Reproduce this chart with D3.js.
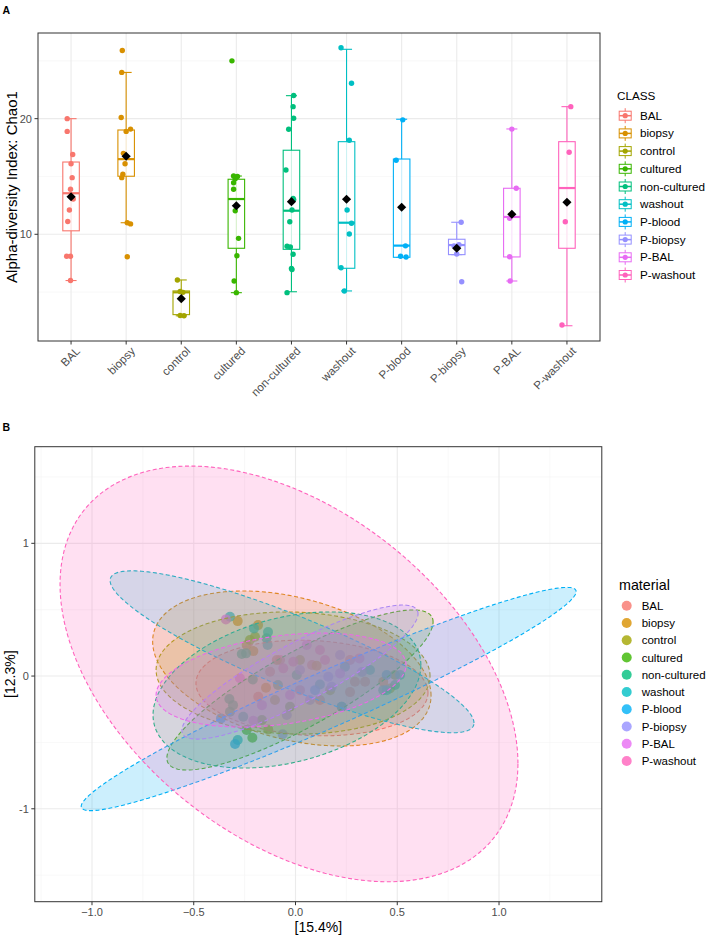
<!DOCTYPE html>
<html><head><meta charset="utf-8">
<script src="https://cdn.jsdelivr.net/npm/d3@7"></script>
<style>body{margin:0;background:#fff;} text{font-family:"Liberation Sans", Arial, sans-serif;}</style>
</head><body><svg id="c" width="708" height="937"></svg>
<script>
// ---------- DATA ----------
const classes = ["BAL","biopsy","control","cultured","non-cultured","washout","P-blood","P-biopsy","P-BAL","P-washout"];
const colors  = ["#F8766D","#D89000","#A3A500","#39B600","#00BF7D","#00BFC4","#00B0F6","#9590FF","#E76BF3","#FF62BC"];

// Panel A: box statistics (Chao1)
const boxQ1    = [10.3, 15.02, 3.05, 8.79, 8.7, 7.06, 8.01, 8.24, 8.04, 8.79];
const boxMed   = [13.55, 16.5, 4.98, 13.05, 12.04, 11.0, 9.02, 9.07, 11.5, 14.0];
const boxQ3    = [16.25, 19.02, 5.1, 14.76, 17.27, 18.01, 16.51, 9.57, 13.98, 18.01];
const whiskLo  = [6.0, 11.0, 2.95, 4.95, 5.03, 5.1, 8.01, 8.24, 5.96, 2.09];
const whiskHi  = [20.0, 24.0, 6.05, 15.04, 21.99, 26.0, 19.95, 11.04, 19.11, 21.04];
const classMean= [13.25, 16.75, 4.43, 12.47, 12.82, 13.03, 12.34, 8.79, 11.73, 12.77];
// Panel A: individual Chao1 values and their horizontal jitter (category units)
const chaoValues = [
  [20.0,18.9,16.9,16.1,14.9,13.9,13.05,12.1,11.1,8.1,8.1,6.0],
  [25.9,24.0,20.1,18.9,19.1,17.0,16.1,15.2,14.9,11.0,10.9,8.06],
  [6.05,5.05,4.98,2.98,2.95],
  [25.0,15.05,15.0,14.8,14.46,13.9,12.45,12.04,9.65,8.15,5.96,4.95],
  [22.0,21.04,20.03,19.08,15.56,13.1,13.0,12.1,11.09,8.96,8.9,8.27,7.04,6.95,4.95],
  [26.14,23.06,18.13,12.1,10.95,10.03,7.11,5.1],
  [19.9,16.4,9.0,8.1,8.03],
  [11.04,9.1,9.0,8.3,5.9],
  [19.1,13.98,11.38,8.06,5.96],
  [21.04,17.09,11.09,2.15]
];
const chaoJitter = [
  [-0.07,-0.07,0.03,0,0.02,-0.01,0.04,-0.03,-0.06,-0.08,-0.01,-0.01],
  [-0.07,-0.08,-0.09,0,0.08,-0.05,-0.02,-0.06,-0.08,0.02,0.08,0.02],
  [-0.07,-0.02,0.03,-0.02,0.05],
  [-0.08,-0.05,0.02,-0.02,-0.05,-0.05,0,-0.02,0.04,0.01,-0.04,0],
  [0.04,0.03,0.04,-0.05,-0.1,0.03,0.04,0.01,-0.03,-0.08,-0.02,0.03,0,0.01,-0.08],
  [-0.1,0.09,0.05,0.01,0.09,0.05,-0.1,-0.04],
  [0.02,-0.1,0.07,-0.02,0.08],
  [0.08,0.04,-0.05,0,0.09],
  [0,0.08,-0.04,-0.04,-0.03],
  [0.07,0.04,-0.03,-0.09]
];
const chaoTicks = [10, 20];

// Panel B: ordination coordinates per material
const pcoX = [
  [0.292,0.342,-0.125,-0.183,0.022,0.120,-0.076,0.268,0.081,0.268],
  [-0.284,-0.240,-0.207,-0.145,0.104,0.431,-0.092,-0.184],
  [-0.199,-0.134,0.022,0.464,0.170,-0.224,-0.101],
  [-0.240,-0.212,-0.027,0.489,-0.165],
  [-0.264,-0.243,-0.210,-0.325,-0.322,-0.257,0.120,0.431,0.243,-0.142,0.227,0.006,-0.086,0.489,-0.307],
  [-0.322,-0.204,-0.137,-0.284,0.366,0.448,-0.135,0.514],
  [-0.297,-0.366,0.448,0.227,0.096],
  [0.219,0.161,0.178,-0.043,-0.063,0.022,0.327,0.071],
  [-0.342,-0.273,-0.207,0.219,0.055,-0.027,-0.165],
  [0.314,-0.011,-0.060,0.120,0.145]
];
const pcoY = [
  [-0.043,-0.043,0.032,-0.156,-0.106,-0.181,0.121,-0.121,0.083,0.121],
  [0.414,0.234,0.188,-0.088,0.078,-0.043,0.121,0.384],
  [0.296,-0.402,0.121,-0.093,-0.106,0.271,-0.181],
  [-0.407,-0.465,-0.231,0.008,-0.332],
  [0.166,0.171,-0.025,-0.173,-0.269,-0.307,-0.063,-0.106,0.070,0.284,-0.231,0.008,-0.068,-0.068,-0.219],
  [0.447,0.359,0.234,-0.482,0.045,-0.106,0.332,0.008],
  [-0.512,-0.319,0.008,-0.231,-0.106],
  [0.158,-0.005,-0.081,-0.294,-0.439,0.045,0.030,-0.181],
  [0.427,-0.017,-0.337,0.020,0.234,-0.143,-0.219],
  [0.133,0.108,0.058,0.196,0.121]
];
// Panel B: confidence ellipses (centre, half extents, correlation)
const ellCx  = [0.081,-0.018,-0.012,0.022,-0.042,-0.017,0.163,0.022,-0.071,-0.032];
const ellCy  = [-0.09,0.057,0.023,-0.105,-0.105,0.183,-0.173,0.03,-0.03,0.016];
const ellRx  = [0.57,0.684,0.673,0.654,0.658,0.894,1.216,0.58,0.614,1.125];
const ellRy  = [0.36,0.584,0.46,0.603,0.588,0.61,0.841,0.505,0.354,1.566];
const ellRho = [-0.1,-0.35,-0.05,0.85,0.32,-0.88,0.962,0.87,0.32,-0.431];
const pcoXTicks = [-1.0,-0.5,0.0,0.5,1.0];
const pcoYTicks = [-1, 0, 1];

// ---------- DRAW ----------
const svg = d3.select("#c");
const tickCol = "#4D4D4D", gridMaj = "#EBEBEB", gridMin = "#F4F4F4", frameCol = "#333333";

// ===== Panel A =====
const A = {x0:38, x1:600, y0:33, y1:341};
const xA = d3.scalePoint().domain(classes).range([A.x0, A.x1]).padding(0.6);
const yA = d3.scaleLinear().domain([0.77, 27.41]).range([A.y1, A.y0]);
const stepA = xA.step();
const gA = svg.append("g");

[5,15,25].forEach(v => gA.append("line").attr("x1",A.x0).attr("x2",A.x1).attr("y1",yA(v)).attr("y2",yA(v))
  .attr("stroke",gridMin).attr("stroke-width",0.6));
chaoTicks.forEach(v => gA.append("line").attr("x1",A.x0).attr("x2",A.x1).attr("y1",yA(v)).attr("y2",yA(v))
  .attr("stroke",gridMaj).attr("stroke-width",1.1));
classes.forEach(c => gA.append("line").attr("x1",xA(c)).attr("x2",xA(c)).attr("y1",A.y0).attr("y2",A.y1)
  .attr("stroke",gridMaj).attr("stroke-width",1.1));

classes.forEach((c,i) => {
  const cx = xA(c), col = colors[i];
  const bw = 0.3*stepA, cw = 0.2*stepA;
  gA.append("line").attr("x1",cx).attr("x2",cx).attr("y1",yA(whiskLo[i])).attr("y2",yA(whiskHi[i]))
    .attr("stroke",col).attr("stroke-width",1.1);
  [whiskLo[i], whiskHi[i]].forEach(v => gA.append("line").attr("x1",cx-cw/2).attr("x2",cx+cw/2)
    .attr("y1",yA(v)).attr("y2",yA(v)).attr("stroke",col).attr("stroke-width",1.1));
  gA.append("rect").attr("x",cx-bw/2).attr("width",bw).attr("y",yA(boxQ3[i])).attr("height",yA(boxQ1[i])-yA(boxQ3[i]))
    .attr("fill","#fff").attr("fill-opacity",0.8).attr("stroke",col).attr("stroke-width",1.1);
  gA.append("line").attr("x1",cx-bw/2).attr("x2",cx+bw/2).attr("y1",yA(boxMed[i])).attr("y2",yA(boxMed[i]))
    .attr("stroke",col).attr("stroke-width",2.2);
  chaoValues[i].forEach((v,j) => gA.append("circle").attr("cx",cx+chaoJitter[i][j]*stepA).attr("cy",yA(v))
    .attr("r",2.7).attr("fill",col));
  gA.append("path").attr("d",d3.symbol(d3.symbolSquare, 42)()).attr("fill","#000")
    .attr("transform",`translate(${cx},${yA(classMean[i])}) rotate(45)`);
});

gA.append("rect").attr("x",A.x0).attr("y",A.y0).attr("width",A.x1-A.x0).attr("height",A.y1-A.y0)
  .attr("fill","none").attr("stroke",frameCol).attr("stroke-width",1);

chaoTicks.forEach(v => {
  gA.append("line").attr("x1",A.x0-3.5).attr("x2",A.x0).attr("y1",yA(v)).attr("y2",yA(v)).attr("stroke",frameCol);
  gA.append("text").attr("x",A.x0-6).attr("y",yA(v)).attr("dy","0.35em").attr("text-anchor","end")
    .attr("font-size",11).attr("fill",tickCol).text(v);
});
classes.forEach(c => {
  gA.append("line").attr("x1",xA(c)).attr("x2",xA(c)).attr("y1",A.y1).attr("y2",A.y1+3.5).attr("stroke",frameCol);
  gA.append("text").attr("transform",`translate(${xA(c)+4},${A.y1+5}) rotate(-45)`)
    .attr("text-anchor","end").attr("dy","0.71em").attr("font-size",11.5).attr("fill",tickCol).text(c);
});
gA.append("text").attr("transform",`translate(17,${(A.y0+A.y1)/2}) rotate(-90)`).attr("text-anchor","middle")
  .attr("font-size",15).attr("fill","#000").text("Alpha-diversity Index: Chao1");
svg.append("text").attr("x",2.5).attr("y",14).attr("font-size",10.5).attr("font-weight","bold").text("A");

const lgA = svg.append("g");
lgA.append("text").attr("x",617).attr("y",100).attr("font-size",11.7).text("CLASS");
classes.forEach((c,i) => {
  const cy = 115.7 + i*17.7, kx = 625.2, col = colors[i];
  lgA.append("line").attr("x1",kx).attr("x2",kx).attr("y1",cy-7.5).attr("y2",cy+7.5).attr("stroke",col).attr("stroke-width",1);
  lgA.append("rect").attr("x",kx-6).attr("y",cy-4.5).attr("width",12).attr("height",9)
    .attr("fill","#fff").attr("stroke",col).attr("stroke-width",1);
  lgA.append("line").attr("x1",kx-6).attr("x2",kx+6).attr("y1",cy).attr("y2",cy).attr("stroke",col).attr("stroke-width",1.5);
  lgA.append("circle").attr("cx",kx).attr("cy",cy).attr("r",2.6).attr("fill",col);
  lgA.append("text").attr("x",640).attr("y",cy).attr("dy","0.35em").attr("font-size",11.7).text(c);
});

// ===== Panel B =====
const B = {x0:34.8, x1:601.8, y0:446.7, y1:901.7};
const xB = d3.scaleLinear().domain([-1.281, 1.505]).range([B.x0, B.x1]);
const yB = d3.scaleLinear().domain([-1.70, 1.728]).range([B.y1, B.y0]);
const gB = svg.append("g");
const clipB = svg.append("clipPath").attr("id","clipB");
clipB.append("rect").attr("x",B.x0).attr("y",B.y0).attr("width",B.x1-B.x0).attr("height",B.y1-B.y0);

[-1.25,-0.75,-0.25,0.25,0.75,1.25].forEach(v => gB.append("line").attr("x1",xB(v)).attr("x2",xB(v))
  .attr("y1",B.y0).attr("y2",B.y1).attr("stroke",gridMin).attr("stroke-width",0.6));
[-1.5,-0.5,0.5,1.5].forEach(v => gB.append("line").attr("y1",yB(v)).attr("y2",yB(v))
  .attr("x1",B.x0).attr("x2",B.x1).attr("stroke",gridMin).attr("stroke-width",0.6));
pcoXTicks.forEach(v => gB.append("line").attr("x1",xB(v)).attr("x2",xB(v))
  .attr("y1",B.y0).attr("y2",B.y1).attr("stroke",gridMaj).attr("stroke-width",1.1));
pcoYTicks.forEach(v => gB.append("line").attr("y1",yB(v)).attr("y2",yB(v))
  .attr("x1",B.x0).attr("x2",B.x1).attr("stroke",gridMaj).attr("stroke-width",1.1));

const plotB = gB.append("g").attr("clip-path","url(#clipB)");
classes.forEach((c,i) => {
  pcoX[i].forEach((x,j) => plotB.append("circle").attr("cx",xB(x)).attr("cy",yB(pcoY[i][j]))
    .attr("r",5).attr("fill",colors[i]).attr("fill-opacity",0.75));
});
const line = d3.line().x(d=>xB(d[0])).y(d=>yB(d[1])).curve(d3.curveLinearClosed);
classes.forEach((c,i) => {
  const s = Math.sqrt(1-ellRho[i]*ellRho[i]);
  const pts = d3.range(0, 200).map(k => {
    const t = k/200*2*Math.PI;
    return [ellCx[i] + ellRx[i]*Math.cos(t), ellCy[i] + ellRy[i]*(ellRho[i]*Math.cos(t) + s*Math.sin(t))];
  });
  plotB.append("path").attr("d",line(pts)).attr("fill",colors[i]).attr("fill-opacity",0.2)
    .attr("stroke",colors[i]).attr("stroke-width",1.1).attr("stroke-dasharray","4,2.5");
});
gB.append("rect").attr("x",B.x0).attr("y",B.y0).attr("width",B.x1-B.x0).attr("height",B.y1-B.y0)
  .attr("fill","none").attr("stroke",frameCol).attr("stroke-width",1);

pcoYTicks.forEach(v => {
  gB.append("line").attr("x1",B.x0-3.5).attr("x2",B.x0).attr("y1",yB(v)).attr("y2",yB(v)).attr("stroke",frameCol);
  gB.append("text").attr("x",B.x0-6).attr("y",yB(v)).attr("dy","0.35em").attr("text-anchor","end")
    .attr("font-size",11).attr("fill",tickCol).text(v);
});
pcoXTicks.forEach(v => {
  gB.append("line").attr("x1",xB(v)).attr("x2",xB(v)).attr("y1",B.y1).attr("y2",B.y1+3.5).attr("stroke",frameCol);
  gB.append("text").attr("x",xB(v)).attr("y",B.y1+6).attr("dy","0.71em").attr("text-anchor","middle")
    .attr("font-size",11).attr("fill",tickCol).text(d3.format(".1f")(v));
});
gB.append("text").attr("x",(B.x0+B.x1)/2).attr("y",932).attr("text-anchor","middle").attr("font-size",14).text("[15.4%]");
gB.append("text").attr("transform",`translate(15,${(B.y0+B.y1)/2}) rotate(-90)`).attr("text-anchor","middle")
  .attr("font-size",14).text("[12.3%]");
svg.append("text").attr("x",2.5).attr("y",431).attr("font-size",10.5).attr("font-weight","bold").text("B");

const lgB = svg.append("g");
lgB.append("text").attr("x",619).attr("y",590).attr("font-size",14.3).text("material");
classes.forEach((c,i) => {
  const cy = 605.7 + i*17.26;
  lgB.append("circle").attr("cx",626.7).attr("cy",cy).attr("r",5).attr("fill",colors[i]).attr("fill-opacity",0.8);
  lgB.append("text").attr("x",641.7).attr("y",cy).attr("dy","0.35em").attr("font-size",11.5).text(c);
});
</script></body></html>
